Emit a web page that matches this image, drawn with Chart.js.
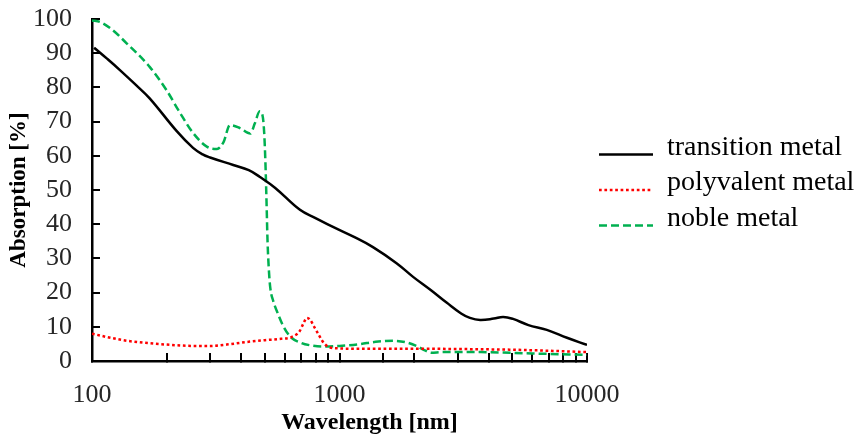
<!DOCTYPE html>
<html>
<head>
<meta charset="utf-8">
<script src="https://cdn.jsdelivr.net/npm/chart.js@4/dist/chart.umd.min.js"></script>
<style>
  html, body { margin: 0; padding: 0; background: #fff; }
  #wrap { width: 861px; height: 441px; }
</style>
</head>
<body>
<div id="wrap"><canvas id="absorcion" width="861" height="441"></canvas></div>
<script>
// Nombres de las series
const nombres = ["transition metal", "polyvalent metal", "noble metal"];

// Longitud de onda [nm] y absorcion [%] de cada serie
const transicionWl = [102, 115, 130, 150, 171, 220, 256, 280, 300, 372, 430, 477, 550, 692, 800, 941, 1150, 1365, 1700, 1983, 2350, 2716, 3100, 3365, 3700, 4200, 4585, 5025, 5800, 6880, 8300, 10000];
const transicionAbs = [91.6, 88.4, 85.0, 80.8, 76.8, 67.2, 62.3, 60.4, 59.5, 57.3, 55.8, 53.8, 50.6, 44.2, 41.8, 39.2, 36.2, 33.3, 28.6, 24.6, 20.6, 17.0, 13.9, 12.6, 12.0, 12.4, 12.9, 12.3, 10.5, 9.1, 6.8, 4.7];

const polivalenteWl = [100, 115, 136, 170, 200, 260, 300, 350, 415, 500, 580, 640, 690, 715, 738, 760, 790, 830, 870, 940, 1170, 2000, 3000, 5000, 7000, 10000];
const polivalenteAbs = [8.0, 7.0, 6.0, 5.2, 4.8, 4.4, 4.4, 4.8, 5.5, 6.1, 6.5, 7.0, 8.7, 11.0, 12.6, 12.1, 10.0, 7.3, 5.0, 3.8, 3.6, 3.6, 3.5, 3.3, 3.0, 2.6];

const nobleWl = [100, 108, 120, 138, 171, 200, 227, 256, 292, 320, 340, 361, 396, 436, 455, 476, 488, 496, 502, 507, 512, 518, 525, 540, 557, 590, 631, 700, 760, 860, 1000, 1200, 1400, 1650, 1850, 2050, 2200, 2350, 2600, 3700, 6000, 10000];
const nobleAbs = [99.6, 99.1, 97.0, 92.9, 86.0, 79.2, 72.5, 66.7, 62.6, 62.0, 64.0, 69.0, 68.1, 66.5, 69.5, 73.0, 72.0, 67.0, 58.0, 47.0, 35.0, 27.0, 21.5, 17.5, 14.8, 10.5, 7.2, 5.3, 4.6, 4.2, 4.4, 4.9, 5.6, 5.9, 5.5, 4.4, 3.2, 2.4, 2.6, 2.6, 2.2, 1.8];

// Ejes
const xMin = 100, xMax = 10000;
const yMin = 0, yMax = 100, yPaso = 10;

const fuente = "'Liberation Serif', 'Times New Roman', serif";

function puntos(xs, ys) {
    return xs.map((x, i) => ({ x: x, y: ys[i] }));
}

// Leyenda dibujada a mano a la derecha del area del grafico
const leyenda = {
    id: "leyenda",
    afterDraw(chart) {
        const ctx = chart.ctx;
        const area = chart.chartArea;
        const medio = (area.top + area.bottom) / 2;
        const x0 = area.right + 12;
        chart.data.datasets.forEach((ds, i) => {
            const y = medio + (i - 1) * 35.5;
            ctx.save();
            ctx.strokeStyle = ds.borderColor;
            ctx.lineWidth = ds.borderWidth;
            ctx.setLineDash(ds.borderDash || []);
            ctx.beginPath();
            ctx.moveTo(x0, y);
            ctx.lineTo(x0 + 54, y);
            ctx.stroke();
            ctx.setLineDash([]);
            ctx.fillStyle = "#000";
            ctx.font = "28px " + fuente;
            ctx.textBaseline = "middle";
            ctx.fillText(ds.label, x0 + 68, y - 7);
            ctx.restore();
        });
    }
};

new Chart(document.getElementById("absorcion").getContext("2d"), {
    type: "line",
    data: {
        datasets: [
            {
                label: nombres[0],
                data: puntos(transicionWl, transicionAbs),
                borderColor: "#000000",
                borderWidth: 2.5,
                tension: 0.4,
                cubicInterpolationMode: "default"
            },
            {
                label: nombres[1],
                data: puntos(polivalenteWl, polivalenteAbs),
                borderColor: "#FF0000",
                borderWidth: 2.5,
                borderDash: [2.7, 2.7],
                cubicInterpolationMode: "monotone"
            },
            {
                label: nombres[2],
                data: puntos(nobleWl, nobleAbs),
                borderColor: "#00B050",
                borderWidth: 2.5,
                borderDash: [8, 4],
                cubicInterpolationMode: "monotone"
            }
        ]
    },
    options: {
        responsive: false,
        animation: false,
        elements: {
            point: { radius: 0 },
            line: { fill: false }
        },
        layout: {
            padding: { top: 0, right: 274, bottom: 0, left: 0 }
        },
        plugins: {
            tooltip: { enabled: false },
            legend: { display: false }
        },
        scales: {
            x: {
                type: "logarithmic",
                min: xMin,
                max: xMax,
                afterFit: (s) => { s.height = 80; },
                border: { display: true, color: "#000", width: 2.5 },
                grid: {
                    drawOnChartArea: false,
                    drawTicks: true,
                    tickLength: -8,
                    color: "#000",
                    lineWidth: 2
                },
                ticks: {
                    autoSkip: false,
                    maxRotation: 0,
                    padding: 27,
                    color: "#262626",
                    font: { family: fuente, size: 26 },
                    callback: (v) => Number.isInteger(Math.log10(v)) ? String(v) : ""
                },
                title: {
                    display: true,
                    text: "          Wavelength [nm]",
                    color: "#000",
                    padding: { top: 0, bottom: 4 },
                    font: { family: fuente, size: 24, weight: "bold" }
                }
            },
            y: {
                min: yMin,
                max: yMax,
                afterFit: (s) => {
                    s.width = 92;
                    s.paddingTop = 19;
                    s.paddingBottom = 10;
                },
                border: { display: true, color: "#000", width: 2.5 },
                grid: {
                    drawOnChartArea: false,
                    drawTicks: true,
                    tickLength: -8,
                    color: "#000",
                    lineWidth: 2
                },
                ticks: {
                    stepSize: yPaso,
                    autoSkip: false,
                    padding: 28,
                    color: "#262626",
                    font: { family: fuente, size: 26 }
                },
                title: {
                    display: true,
                    text: "Absorption [%]",
                    color: "#000",
                    padding: { top: 5, bottom: 0 },
                    font: { family: fuente, size: 23, weight: "bold" }
                }
            }
        }
    },
    plugins: [leyenda]
});
</script>
</body>
</html>
